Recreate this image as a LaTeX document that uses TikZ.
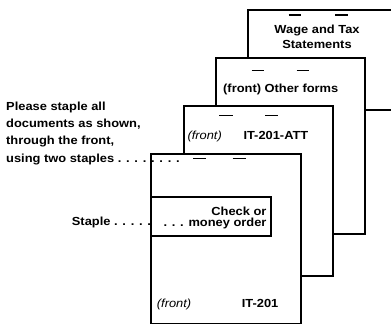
\documentclass[tikz,border=0pt]{standalone}
\usepackage{fontspec}
\setmainfont{Liberation Sans}[FakeStretch=1.1]
\begin{document}
\begin{tikzpicture}[x=1pt,y=-1pt,
  sheet/.style={draw=black, line width=2.2pt, fill=white, inner sep=0, anchor=north west},
  staplemark/.style={line width=1.3pt},
  txt/.style={inner sep=0, font=\bfseries\fontsize{11.7}{14}\selectfont},
  itxt/.style={inner sep=0, font=\itshape\fontsize{11.7}{14}\selectfont}]
\useasboundingbox (0,0) rectangle (391,324);
% pages, back to front
\node[sheet, minimum width=190pt, minimum height=100pt] (p4) at (247,9) {};
\node[sheet, minimum width=149pt, minimum height=176pt] (p3) at (215,57) {};
\node[sheet, minimum width=149pt, minimum height=170pt] (p2) at (183,105) {};
\node[sheet, minimum width=150pt, minimum height=170pt] (p1) at (150,153) {};
\node[sheet, minimum width=120pt, minimum height=38.5pt] (chk) at (150,196) {};
% staple marks
\draw[staplemark] (p4.north west) ++(41.5,6) -- ++(12.5,0);
\draw[staplemark] (p4.north west) ++(88,6) -- ++(13,0);
\draw[staplemark] (p3.north west) ++(36.5,13.7) -- ++(12,0);
\draw[staplemark] (p3.north west) ++(81.5,13.7) -- ++(12,0);
\draw[staplemark] (p2.north west) ++(36,10.7) -- ++(13.5,0);
\draw[staplemark] (p2.north west) ++(82,10.7) -- ++(12.5,0);
\draw[staplemark] (p1.north west) ++(43,5.3) -- ++(13,0);
\draw[staplemark] (p1.north west) ++(82.5,5.3) -- ++(13.5,0);
% page texts
\node[txt, anchor=base] (t4a) at (317,33) {Wage and Tax};
\node[txt, anchor=base] (t4b) at (317,48.7) {Statements};
\node[txt, anchor=base east] (t3) at (338.5,92) {(front) Other forms};
\node[itxt, anchor=base west] (t2a) at (187.3,139) {(front)};
\node[txt, anchor=base west] (t2b) at (243.3,139) {IT-201-ATT};
\node[itxt, anchor=base west] (t1a) at (156.7,307.5) {(front)};
\node[txt, anchor=base west] (t1b) at (241.7,307.5) {IT-201};
\node[txt, anchor=base east] (c1) at (266.7,215) {Check or};
\node[txt, anchor=base east] (c2) at (266.7,226.3) {. . . money order};
% left texts
\node[txt, anchor=base west] (l1) at (6,110.5) {Please staple all};
\node[txt, anchor=base west] (l2) at (6,127.5) {documents as shown,};
\node[txt, anchor=base west] (l3) at (6,144.5) {through the front,};
\node[txt, anchor=base west] (l4) at (6,162.3) {using two staples . . . . . . . .};
\node[txt, anchor=base west] (l5) at (71.7,225.5) {Staple . . . . .};
\end{tikzpicture}
\end{document}
